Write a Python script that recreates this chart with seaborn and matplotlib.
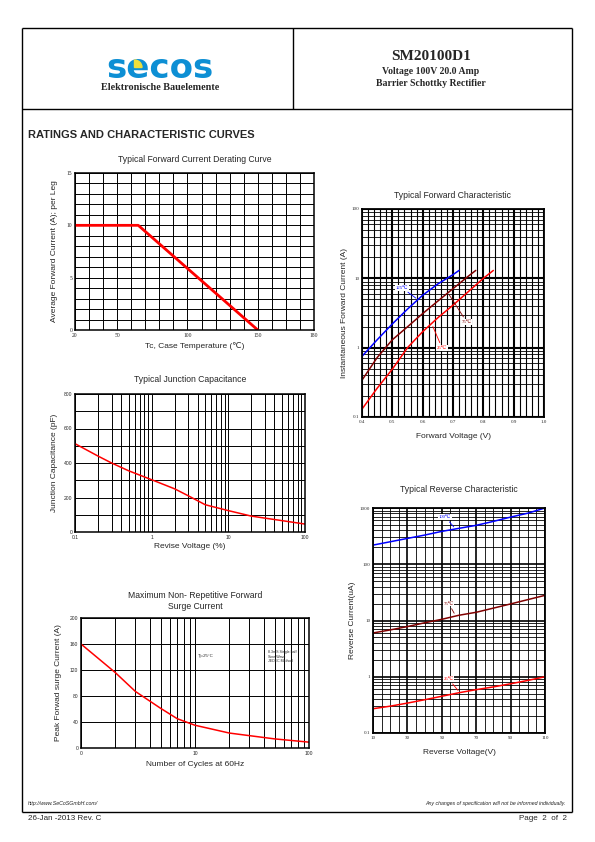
import numpy as np
import pandas as pd
import matplotlib
matplotlib.use("Agg")
import matplotlib.pyplot as plt
import seaborn as sns
from matplotlib.ticker import MultipleLocator, FixedLocator, LogLocator, NullFormatter
from matplotlib.patches import Wedge

# ---------------- data ----------------
derate_temp = [20, 65, 150]
derate_current = [10, 10, 0]
derate_xticks = [20, 50, 100, 150, 190]
derate_xticklabels = ["20", "50", "100", "150", "180"]
derate_yticks = [0, 5, 10, 15]
derate_yticklabels = ["0", "5", "10", "15"]

cap_voltage = [0.1, 0.2, 0.3, 0.5, 1, 2, 3, 5, 10, 20, 50, 100]
cap_pf = [512, 440, 400, 355, 303, 250, 210, 158, 124, 92, 66, 46]
cap_xticks = [0.1, 1, 10, 100]
cap_xticklabels = ["0.1", "1", "10", "100"]
cap_yticks = [0, 200, 400, 600, 800]
cap_yticklabels = ["0", "200", "400", "600", "800"]

surge_cycles = [1, 2, 3, 5, 7, 10, 20, 50, 100]
surge_current = [160, 116, 87, 61, 45, 35, 23, 14, 9]
surge_xticks = [1, 10, 100]
surge_xticklabels = ["0", "10", "100"]
surge_yticks = [0, 40, 80, 120, 160, 200]
surge_yticklabels = ["0", "40", "80", "120", "160", "200"]

fwd_v_125 = [0.40, 0.45, 0.50, 0.55, 0.60, 0.65, 0.70, 0.72]
fwd_i_125 = [0.75, 1.3, 2.2, 3.6, 5.7, 8.3, 11.3, 13]
fwd_v_75 = [0.40, 0.45, 0.50, 0.55, 0.60, 0.65, 0.70, 0.75, 0.775]
fwd_i_75 = [0.34, 0.72, 1.3, 2.0, 3.1, 4.7, 7.1, 10.7, 13]
fwd_v_25 = [0.40, 0.45, 0.50, 0.55, 0.60, 0.65, 0.70, 0.75, 0.80, 0.833]
fwd_i_25 = [0.13, 0.26, 0.49, 1.0, 1.7, 2.7, 4.1, 6.4, 10, 13]
fwd_xticks = [0.4, 0.5, 0.6, 0.7, 0.8, 0.9, 1.0]
fwd_xticklabels = ["0.4", "0.5", "0.6", "0.7", "0.8", "0.9", "1.0"]
fwd_yticks = [0.1, 1, 10, 100]
fwd_yticklabels = ["0.1", "1", "10", "100"]

rev_v = [10, 20, 30, 40, 50, 60, 70, 80, 90, 100, 110]
rev_i_100 = [219, 251, 288, 330, 384, 435, 492, 578, 689, 809, 1000]
rev_i_75 = [6.0, 6.8, 7.8, 9.1, 10.5, 12.4, 14, 16.6, 19.7, 23.5, 28]
rev_i_25 = [0.27, 0.30, 0.34, 0.39, 0.45, 0.52, 0.59, 0.66, 0.75, 0.86, 1.0]
rev_xticks = [10, 30, 50, 70, 90, 110]
rev_xticklabels = ["10", "30", "50", "70", "90", "110"]
rev_yticks = [0.1, 1, 10, 100, 1000]
rev_yticklabels = ["0.1", "1", "10", "100", "1000"]

# ---------------- style ----------------
sns.set_style("white")
plt.rcParams['font.family'] = ['Liberation Sans', 'DejaVu Sans']
SANS = ['Liberation Sans', 'DejaVu Sans']
SERIF = ['Liberation Serif', 'DejaVu Serif', 'DejaVu Sans']

RED = "#ff0000"
MAROON = "#800000"
BLUE = "#0000ff"

W, H = 595, 842
fig = plt.figure(figsize=(W / 100, H / 100), dpi=100)

# background layer in page pixel coordinates
bg = fig.add_axes([0, 0, 1, 1], zorder=-5)
bg.set_xlim(0, W)
bg.set_ylim(H, 0)
bg.axis('off')

def hline(y, x0, x1, lw=1.0):
    bg.plot([x0, x1], [y, y], color='k', lw=lw, solid_capstyle='butt')

def vline(x, y0, y1, lw=1.0):
    bg.plot([x, x], [y0, y1], color='k', lw=lw, solid_capstyle='butt')

# page frame
hline(28, 22, 572)
hline(109, 22, 572)
hline(812, 22, 572)
vline(22, 28, 812)
vline(572, 28, 812)
vline(293, 28, 109)

# logo
bg.text(160, 77.5, "secos", fontsize=24.5, fontweight='bold', color="#0d8fd4",
        family=['DejaVu Sans'], ha='center', va='baseline')
bg.add_patch(Wedge((134.5, 67.5), 7.5, 270, 360, color="#eedf3c", zorder=5))
bg.text(160, 87.5, "Elektronische Bauelemente", fontsize=7.3, fontweight='bold',
        family=SERIF, ha='center', va='center')

bg.text(431, 57, "SM20100D1", fontsize=11, fontweight='bold', family=SERIF,
        ha='center', va='center')
bg.text(431, 71, "Voltage 100V 20.0 Amp", fontsize=7, fontweight='bold', family=SERIF,
        ha='center', va='center')
bg.text(431, 84, "Barrier Schottky Rectifier", fontsize=7, fontweight='bold', family=SERIF,
        ha='center', va='center')

bg.text(28, 135, "RATINGS AND CHARACTERISTIC CURVES", fontsize=8, fontweight='bold',
        ha='left', va='center')

bg.text(28, 803, "http://www.SeCoSGmbH.com/", fontsize=3.8, style='italic',
        ha='left', va='center')
bg.text(566, 803, "Any changes of specification will not be informed individually.",
        fontsize=3.8, style='italic', ha='right', va='center')
bg.text(28, 818.5, "26-Jan -2013 Rev. C", fontsize=5.8, ha='left', va='center')
bg.text(567, 818.5, "Page  2  of  2", fontsize=5.8, ha='right', va='center')


def px_axes(l, t, r, b):
    ax = fig.add_axes([l / W, 1 - b / H, (r - l) / W, (b - t) / H])
    ax.box = (l, t, r, b)
    return ax


def place_labels(ax, title, title_y, xlabel, xlabel_y, ylabel, ylabel_x, title_fs=6.2):
    l, t, r, b = ax.box
    ax.set_title(title, fontsize=title_fs, y=(b - title_y) / (b - t), va='center',
                 linespacing=1.15, pad=0)
    ax.set_xlabel(xlabel, fontsize=6)
    ax.xaxis.set_label_coords(0.5, (b - xlabel_y) / (b - t))
    ax.xaxis.label.set_va('center')
    ax.set_ylabel(ylabel, fontsize=6)
    ax.yaxis.set_label_coords((ylabel_x - l) / (r - l), 0.5)
    ax.yaxis.label.set_va('center')


def style_ax(ax, spine_lw=1.1):
    for s in ax.spines.values():
        s.set_visible(True)
        s.set_color('k')
        s.set_linewidth(spine_lw)
    ax.tick_params(which='both', length=0, pad=2)
    ax.set_axisbelow(True)


def ticklabels(ax, xt, xl, yt, yl, family, fs=4):
    ax.xaxis.set_major_locator(FixedLocator(xt))
    ax.yaxis.set_major_locator(FixedLocator(yt))
    ax.set_xticklabels(xl, fontsize=fs, family=family)
    ax.set_yticklabels(yl, fontsize=fs, family=family)
    ax.xaxis.set_minor_formatter(NullFormatter())
    ax.yaxis.set_minor_formatter(NullFormatter())


# ---------- Chart 1: derating ----------
ax1 = px_axes(75, 173, 314, 330)
style_ax(ax1)
sns.lineplot(x=derate_temp, y=derate_current, ax=ax1, color=RED, lw=2.0)
ax1.set_xlim(20, 190)
ax1.set_ylim(0, 15)
ticklabels(ax1, derate_xticks, derate_xticklabels, derate_yticks, derate_yticklabels, SERIF)
ax1.xaxis.set_minor_locator(MultipleLocator(10))
ax1.yaxis.set_minor_locator(MultipleLocator(1))
ax1.grid(which='both', color='k', lw=0.7)
place_labels(ax1, "Typical Forward Current Derating Curve", 160,
             "Tc, Case Temperature (\u2103)", 346,
             "Average Forward Current (A); per Leg", 55)

# ---------- Chart 2: capacitance ----------
ax2 = px_axes(75, 394, 305, 532)
style_ax(ax2)
ax2.set_xscale('log')
sns.lineplot(x=cap_voltage, y=cap_pf, ax=ax2, color=RED, lw=1.1)
ax2.set_xlim(0.1, 100)
ax2.set_ylim(0, 800)
ticklabels(ax2, cap_xticks, cap_xticklabels, cap_yticks, cap_yticklabels, SANS, fs=3.6)
ax2.xaxis.set_minor_locator(LogLocator(base=10, subs=np.arange(2, 10)))
ax2.yaxis.set_minor_locator(MultipleLocator(100))
ax2.grid(which='both', color='k', lw=0.7)
place_labels(ax2, "Typical Junction Capacitance", 380,
             "Revise Voltage (%)", 547,
             "Junction Capacitance (pF)", 55)

# ---------- Chart 3: surge ----------
ax3 = px_axes(81, 618, 309, 748)
style_ax(ax3)
ax3.set_xscale('log')
sns.lineplot(x=surge_cycles, y=surge_current, ax=ax3, color=RED, lw=1.1)
ax3.set_xlim(1, 100)
ax3.set_ylim(0, 200)
ticklabels(ax3, surge_xticks, surge_xticklabels, surge_yticks, surge_yticklabels, SANS, fs=3.6)
ax3.xaxis.set_minor_locator(LogLocator(base=10, subs=np.arange(2, 10)))
ax3.grid(which='both', color='k', lw=0.7)
place_labels(ax3, "Maximum Non- Repetitive Forward\nSurge Current", 601,
             "Number of Cycles at 60Hz", 765,
             "Peak Forwad surge Current (A)", 59)
ax3.text(10.6, 142, "Tj=25\u00b0C", fontsize=3.2, ha='left', va='center')
ax3.text(43.7, 150, "8.3mS Single half\nSine Wave\nJEDEC Method", fontsize=2.6,
         ha='left', va='top', linespacing=1.1)

# ---------- Chart 4: forward characteristic ----------
ax4 = px_axes(362, 209, 544, 417)
style_ax(ax4, spine_lw=1.3)
ax4.set_yscale('log')
sns.lineplot(x=fwd_v_125, y=fwd_i_125, ax=ax4, color=BLUE, lw=1.1)
sns.lineplot(x=fwd_v_75, y=fwd_i_75, ax=ax4, color=MAROON, lw=1.1)
sns.lineplot(x=fwd_v_25, y=fwd_i_25, ax=ax4, color=RED, lw=1.1)
ax4.set_xlim(0.4, 1.0)
ax4.set_ylim(0.1, 100)
ticklabels(ax4, fwd_xticks, fwd_xticklabels, fwd_yticks, fwd_yticklabels, SERIF, fs=3.6)
ax4.xaxis.set_minor_locator(MultipleLocator(0.02))
ax4.yaxis.set_minor_locator(LogLocator(base=10, subs=np.arange(2, 10)))
ax4.grid(which='minor', axis='y', color='#9a9a9a', lw=1.6)
ax4.grid(which='minor', axis='y', color='k', lw=0.6)
ax4.grid(which='minor', axis='x', color='k', lw=0.8)
ax4.grid(which='major', color='k', lw=1.5)
place_labels(ax4, "Typical Forward Characteristic", 195,
             "Forward Voltage (V)", 437,
             "Instantaneous Forward Current (A)", 345)

ann_kw = dict(fontsize=3.4, family=SERIF, ha='center', va='center',
              bbox=dict(boxstyle='square,pad=0.15', fc='white', ec='none'))
ax4.annotate("125\u2103", xy=(0.585, 4.9), xytext=(0.532, 7.3), color=BLUE,
             arrowprops=dict(arrowstyle='-', color=BLUE, lw=0.6), **ann_kw)
ax4.annotate("75\u2103", xy=(0.683, 6.2), xytext=(0.745, 2.35), color=MAROON,
             arrowprops=dict(arrowstyle='-', color=MAROON, lw=0.6), **ann_kw)
ax4.annotate("25\u2103", xy=(0.63, 2.2), xytext=(0.664, 0.99), color=RED,
             arrowprops=dict(arrowstyle='-', color=RED, lw=0.6), **ann_kw)

# ---------- Chart 5: reverse characteristic ----------
ax5 = px_axes(373, 508, 545, 733)
style_ax(ax5, spine_lw=1.3)
ax5.set_yscale('log')
sns.lineplot(x=rev_v, y=rev_i_100, ax=ax5, color=BLUE, lw=1.1)
sns.lineplot(x=rev_v, y=rev_i_75, ax=ax5, color=MAROON, lw=1.1)
sns.lineplot(x=rev_v, y=rev_i_25, ax=ax5, color=RED, lw=1.1)
ax5.set_xlim(10, 110)
ax5.set_ylim(0.1, 1000)
ticklabels(ax5, rev_xticks, rev_xticklabels, rev_yticks, rev_yticklabels, SERIF, fs=3.6)
ax5.xaxis.set_minor_locator(MultipleLocator(5))
ax5.yaxis.set_minor_locator(LogLocator(base=10, subs=np.arange(2, 10)))
ax5.grid(which='minor', color='k', lw=0.6)
ax5.grid(which='major', color='k', lw=1.2)
place_labels(ax5, "Typical Reverse Characteristic", 489,
             "Reverse Voltage(V)", 753,
             "Reverse Current(uA)", 352)
ax5.annotate("100\u2103", xy=(58, 425), xytext=(52, 690), color=BLUE,
             arrowprops=dict(arrowstyle='-', color=BLUE, lw=0.6), **ann_kw)
ax5.annotate("75\u2103", xy=(58, 12.2), xytext=(54, 20), color=MAROON,
             arrowprops=dict(arrowstyle='-', color=MAROON, lw=0.6), **ann_kw)
ax5.annotate("25\u2103", xy=(60.5, 0.52), xytext=(54, 0.91), color=RED,
             arrowprops=dict(arrowstyle='-', color=RED, lw=0.6), **ann_kw)

fig.savefig("out.png", dpi=100)
